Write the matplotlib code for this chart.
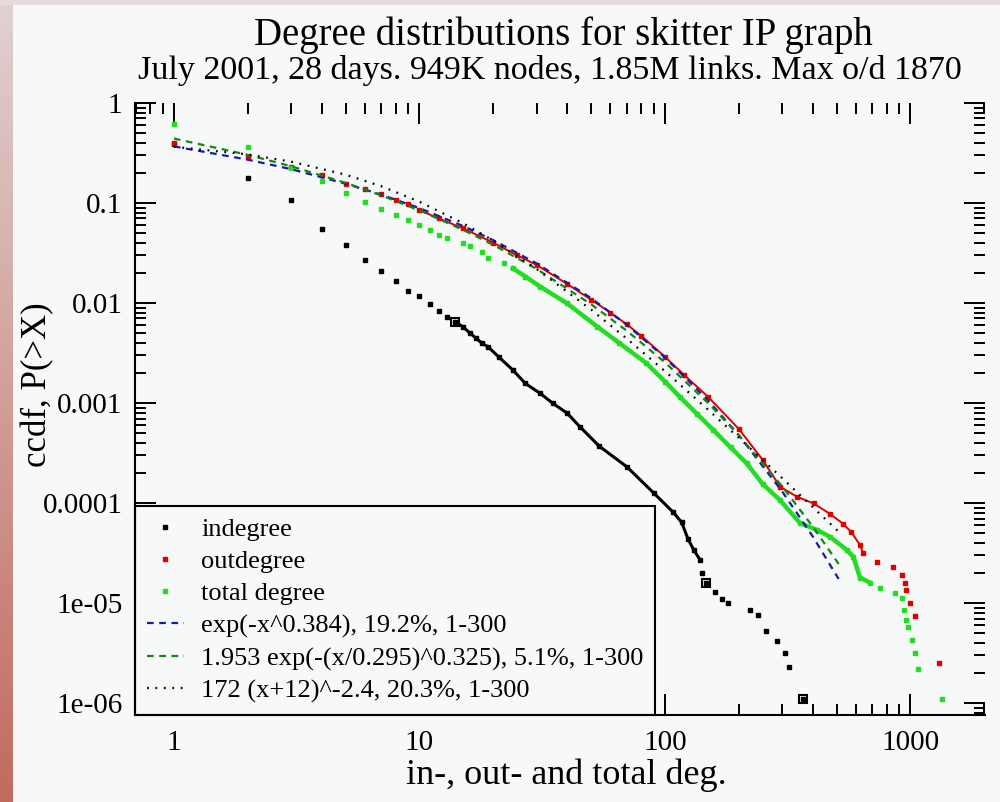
import numpy as np
import matplotlib
matplotlib.use('Agg')
import matplotlib.pyplot as plt
from matplotlib.lines import Line2D

plt.rcParams['font.family'] = 'Liberation Serif'

# ccdf P(>X)
indeg_x = [1, 2, 3, 4, 5, 6, 7, 8, 9, 10, 11, 12, 13, 14, 15, 16, 17, 18, 19, 21,
           24, 27, 31, 35, 40, 45, 54, 70, 90, 108, 117, 124, 131, 139, 141, 147,
           160, 170, 181, 222, 240, 259, 285, 308, 321, 366]
indeg_y = [0.39, 0.177, 0.107, 0.055, 0.038, 0.027, 0.0209, 0.0167, 0.0133, 0.0117,
           0.0098, 0.0084, 0.0073, 0.0065, 0.0058, 0.00505, 0.00444, 0.00395, 0.00366, 0.0029,
           0.00214, 0.00157, 0.00125, 0.00099, 0.00079, 0.00058, 0.00037, 0.00023, 0.000126, 8.1e-5,
           6.4e-5, 4.4e-5, 3.4e-5, 2.7e-5, 2.0e-5, 1.6e-5,
           1.3e-5, 1.1e-5, 1.0e-5, 8.6e-6, 7.6e-6, 5.3e-6, 4.2e-6, 3.2e-6, 2.3e-6, 1.1e-6]
indeg_sq = [14, 147, 366]   # points drawn as open squares

out_x = [1, 2, 3, 4, 5, 6, 7, 8, 9, 10, 12, 15, 20, 25, 30, 40, 50, 60, 70, 80,
         100, 120, 150, 200, 250, 294, 344, 403, 470, 532, 575, 623, 640, 728, 851,
         921, 950, 960, 995, 1043, 1310]
out_y = [0.40, 0.29, 0.23, 0.19, 0.154, 0.137, 0.123, 0.107, 0.097, 0.085,
         0.070, 0.056, 0.040, 0.030, 0.024, 0.0155, 0.0108, 0.0080, 0.0061, 0.0047,
         0.0029, 0.0019, 0.00115, 0.00055, 0.00027, 0.000146, 0.000116, 9.9e-5, 7.8e-5, 6.2e-5,
         5.1e-5, 3.8e-5, 3.2e-5, 2.6e-5, 2.3e-5,
         1.9e-5, 1.6e-5, 1.35e-5, 1.0e-5, 7.4e-6, 2.5e-6]

tot_x = [1, 2, 3, 4, 5, 6, 7, 8, 9, 10, 11, 12, 13, 15, 16, 18, 19, 22, 24, 27,
         31, 40, 53, 65, 84, 100, 115, 135, 157, 185, 215, 250, 294, 355, 415, 470,
         550, 585, 623, 684, 752, 865, 921, 940, 955, 980, 1010, 1043, 1077, 1340]
tot_y = [0.612, 0.365, 0.225, 0.166, 0.125, 0.103, 0.087, 0.076, 0.067, 0.060,
         0.0537, 0.0479, 0.0446, 0.0398, 0.0372, 0.0327, 0.0281, 0.0250, 0.0222, 0.0184,
         0.0146, 0.0099, 0.0058, 0.0040, 0.0025, 0.00164, 0.00115, 0.00078, 0.00054, 0.00036,
         0.00025, 0.000155, 0.000107, 6.3e-5, 5.4e-5, 4.6e-5,
         3.4e-5, 2.9e-5, 1.8e-5, 1.6e-5, 1.4e-5, 1.26e-5, 1.12e-5, 8.5e-6, 6.8e-6, 5.8e-6,
         4.3e-6, 3.2e-6, 2.2e-6, 1.1e-6]

# fitted curves, values read along the dashed / dotted lines
fit_x = [1, 2, 3, 5, 7, 10, 15, 20, 30, 50, 70, 100, 150, 200, 300, 400, 510]
fit_exp = [0.368, 0.271, 0.218, 0.156, 0.121, 0.0888, 0.0591, 0.0424, 0.0249, 0.0112,
           0.00603, 0.00285, 0.00106, 0.000476, 0.000131, 4.63e-5, 1.74e-5]
fit_weib = [0.441, 0.303, 0.233, 0.159, 0.119, 0.0843, 0.0541, 0.0381, 0.0219, 0.00973,
            0.00527, 0.00255, 0.000998, 0.000476, 0.000147, 5.81e-5, 2.46e-5]
fit_pow = [0.365, 0.306, 0.259, 0.192, 0.147, 0.103, 0.0631, 0.042, 0.0219, 0.00859,
           0.00439, 0.00208, 0.000856, 0.000448, 0.000178, 9.1e-5, 5.17e-5]

labels = ['indegree', 'outdegree', 'total degree',
          'exp(-x^0.384), 19.2%, 1-300',
          '1.953 exp(-(x/0.295)^0.325), 5.1%, 1-300',
          '172 (x+12)^-2.4, 20.3%, 1-300']

bg = '#f6f9f8'
fig = plt.figure(figsize=(10, 8.02), dpi=100, facecolor=bg)

# reddish frame at the left and top edge of the screenshot
edge = fig.add_axes([0, 0, 0.013, 1])
grad = np.linspace(0, 1, 100).reshape(-1, 1)
edge.imshow(np.dstack([0.88 - 0.12 * grad, 0.82 - 0.40 * grad, 0.82 - 0.45 * grad]),
            aspect='auto', extent=[0, 1, 0, 1])
edge.axis('off')
top = fig.add_axes([0, 0.994, 1, 0.006])
top.set_facecolor('#e6dada')
top.set_xticks([]); top.set_yticks([])
for s in top.spines.values():
    s.set_visible(False)

ax = fig.add_axes([0.135, 0.1085, 0.85, 0.7631])
ax.set_facecolor(bg)
ax.set_xscale('log')
ax.set_yscale('log')


def part(xs, ys, lo, hi):
    keep = [(a, b) for a, b in zip(xs, ys) if lo <= a <= hi]
    return [k[0] for k in keep], [k[1] for k in keep]


# dense stretches look like a solid line in the original
dx, dy = part(indeg_x, indeg_y, 14, 139)
ax.plot(dx, dy, '-', color='black', lw=2.2)
dx, dy = part(out_x, out_y, 10, 640)
ax.plot(dx, dy, '-', color='#e00000', lw=1.4)
dx, dy = part(tot_x, tot_y, 24, 684)
ax.plot(dx, dy, '-', color='#22dd22', lw=3.2)

ax.plot(indeg_x, indeg_y, 's', color='black', ms=3.2, ls='none')
ax.plot(out_x, out_y, 's', color='#e00000', ms=2.4, ls='none')
ax.plot(tot_x, tot_y, 's', color='#22dd22', ms=3.2, ls='none')
sq_y = [indeg_y[indeg_x.index(v)] for v in indeg_sq]
ax.plot(indeg_sq, sq_y, 's', mfc='none', mec='black', ms=6, mew=1.5, ls='none')

ax.plot(fit_x, fit_exp, color='#1a1aa8', lw=1.6, dashes=(3, 2.5))
ax.plot(fit_x, fit_weib, color='#118811', lw=1.6, dashes=(3, 2.5))
ax.plot(fit_x, fit_pow, color='black', lw=1.6, dashes=(0.8, 3))

ax.set_xlim(0.694, 2012)
ax.set_ylim(7.6e-7, 1)

ax.set_xticks([1, 10, 100, 1000])
ax.set_xticklabels(['1', '10', '100', '1000'])
ax.set_yticks([1, 0.1, 0.01, 0.001, 0.0001, 1e-5, 1e-6])
ax.set_yticklabels(['1', '0.1', '0.01', '0.001', '0.0001', '1e-05', '1e-06'])
ax.tick_params(which='both', direction='in', top=True, right=True, width=1.4,
               labelsize=21)
ax.tick_params(axis='x', pad=11)
ax.tick_params(axis='y', pad=9)
ax.tick_params(which='major', length=15)
ax.tick_params(which='minor', length=8)
ax.spines['top'].set_visible(False)
ax.spines['right'].set_visible(False)
ax.spines['left'].set_linewidth(1.5)
ax.spines['bottom'].set_linewidth(1.5)

handles = [
    Line2D([], [], marker='s', color='black', ms=3, ls='none'),
    Line2D([], [], marker='s', color='#e00000', ms=2.2, ls='none'),
    Line2D([], [], marker='s', color='#22dd22', ms=2.2, ls='none'),
    Line2D([], [], color='#1a1aa8', lw=1.6, dashes=(3, 2.5)),
    Line2D([], [], color='#118811', lw=1.6, dashes=(3, 2.5)),
    Line2D([], [], color='black', lw=1.6, dashes=(0.8, 3)),
]
leg = ax.legend(handles, labels, loc='lower left', bbox_to_anchor=(0, 0),
                borderaxespad=0, fancybox=False, fontsize=19, handlelength=1.4,
                handletextpad=0.65, labelspacing=0.33, borderpad=0.45,
                framealpha=1, facecolor=bg, edgecolor='black')
leg.get_frame().set_linewidth(1.5)
leg.set_zorder(2.4)   # axis ticks stay visible over the legend box

fig.text(0.5635, 1 - 35 / 802, 'Degree distributions for skitter IP graph',
         ha='center', va='center', fontsize=28)
fig.text(0.55, 1 - 70 / 802, 'July 2001, 28 days. 949K nodes, 1.85M links. Max o/d 1870',
         ha='center', va='center', fontsize=24.5)
fig.text(0.566, 1 - 775 / 802, 'in-, out- and total deg.', ha='center', va='center',
         fontsize=26)
fig.text(0.038, 1 - 385 / 802, 'ccdf, P(>X)', ha='center', va='center', rotation=90,
         fontsize=25)

fig.savefig('out.png', dpi=100, facecolor=bg)
